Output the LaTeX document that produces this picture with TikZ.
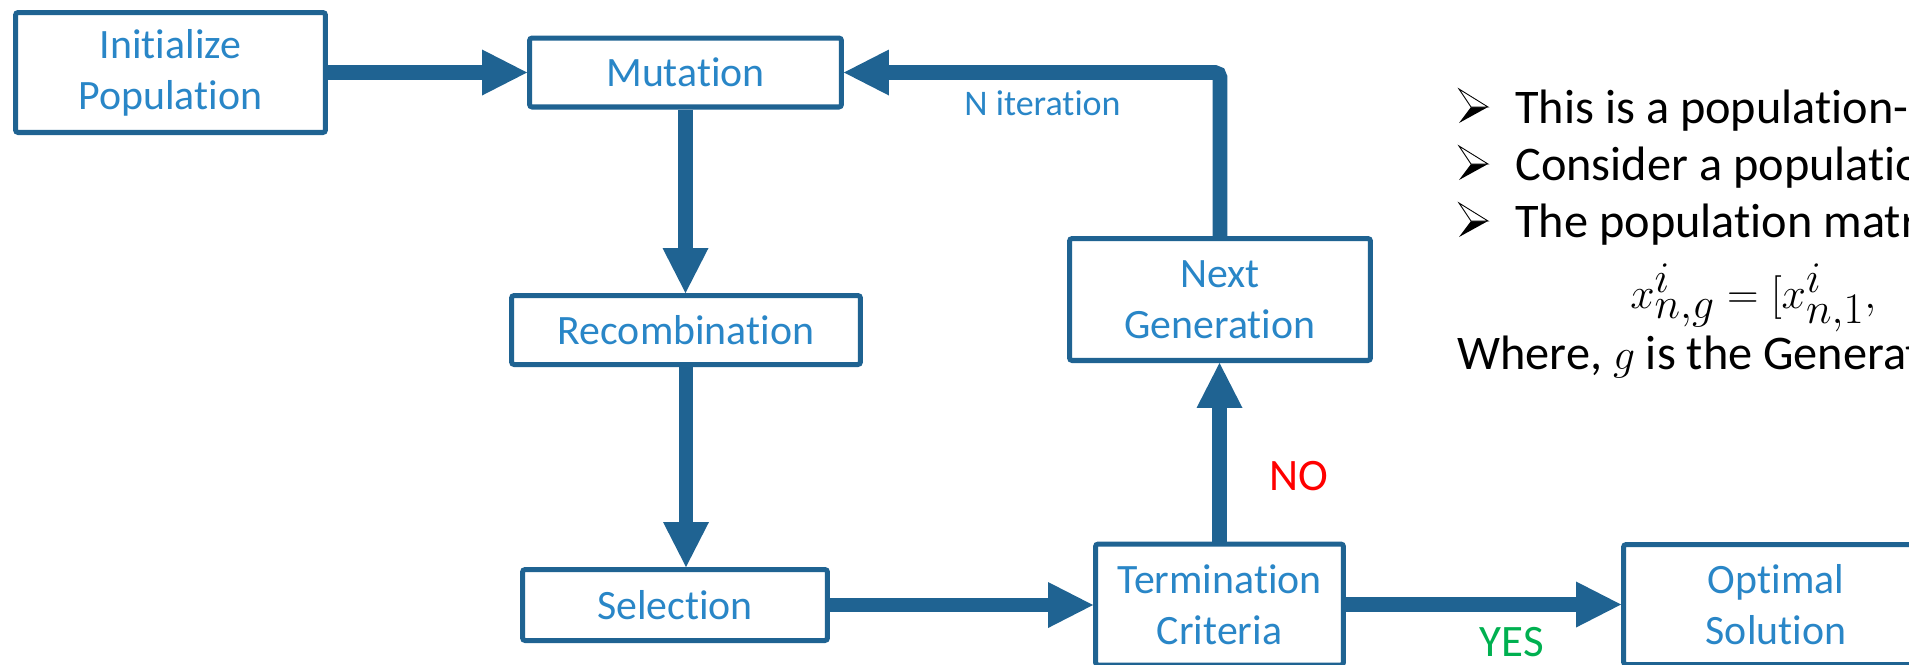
\documentclass[tikz,border=0pt]{standalone}
\usepackage{fontspec}
\setmainfont{Carlito}[Ligatures={NoCommon,NoContextual}]
\usetikzlibrary{arrows.meta}
\definecolor{boxblue}{RGB}{31,99,146}
\definecolor{txtblue}{RGB}{41,134,199}
\definecolor{yesgreen}{RGB}{0,176,80}
\definecolor{nored}{RGB}{255,0,0}
\begin{document}
\begin{tikzpicture}[x=0.02cm, y=-0.02cm,
  flowbox/.style={draw=boxblue, line width=2.85pt, rounded corners=1.5pt, fill=white,
    text=txtblue, align=center, inner sep=0pt, font=\fontsize{23.8}{29}\selectfont},
  flowarrow/.style={draw=boxblue, line width=8.5pt,
    -{Triangle[length=0.9cm, width=0.92cm, line width=0pt]}},
  bodytext/.style={anchor=base west, inner sep=0pt, text=black, font=\fontsize{27.5}{33}\selectfont},
  edgelabel/.style={anchor=base, inner sep=0pt, font=\fontsize{25.6}{30}\selectfont}]
\useasboundingbox (0,0) rectangle (1909,664);
\clip (0,0) rectangle (1909,664);

% boxes
\node[flowbox, minimum width=6.2cm, minimum height=2.4cm] (init) at (170.5,72.5) {Initialize\\Population};
\node[flowbox, minimum width=6.24cm, minimum height=1.38cm] (mut) at (685.5,72.5) {Mutation};
\node[flowbox, minimum width=6.98cm, minimum height=1.38cm] (rec) at (686,330) {Recombination};
\node[flowbox, minimum width=6.1cm, minimum height=1.42cm] (sel) at (675,605) {Selection};
\node[flowbox, minimum width=4.96cm, minimum height=2.42cm] (term) at (1219.5,604.5) {Termination\\Criteria};
\node[flowbox, minimum width=6.02cm, minimum height=2.44cm] (next) at (1220,299.5) {Next\\Generation};
\node[flowbox, minimum width=6.1cm, minimum height=2.4cm] (opt) at (1776,604.5) {Optimal\\Solution};

% connectors
\draw[flowarrow] (init.east) -- (mut.west);
\draw[flowarrow] (mut.south) -- (mut.south |- rec.north);
\draw[flowarrow] (rec.south) -- (rec.south |- sel.north);
\draw[flowarrow] (sel.east) -- (sel.east -| term.west);
\draw[flowarrow] (term.north) -- (term.north |- next.south);
\draw[flowarrow] (term.east) -- (term.east -| opt.west);
\draw[flowarrow, rounded corners=3pt] (next.north) |- (mut.east);

% labels
\node[anchor=base, inner sep=0pt, text=txtblue, font=\fontsize{20.5}{25}\selectfont] (iter) at (1042.5,115) {N iteration};
\node[edgelabel, text=nored] (no) at (1299,490) {NO};
\node[edgelabel, text=yesgreen] (yes) at (1512,656) {YES};

% right-hand text
\node[bodytext] (l1) at (1515,123) {This is a population-};
\node[bodytext] (l2) at (1515,180) {Consider a population};
\node[bodytext] (l3) at (1515,237) {The population matrix};
\node[anchor=base west, inner sep=0pt, font=\fontsize{33.5}{40}\selectfont] (formula) at (1630,308) {$x^{i}_{n,g}=[x^{i}_{n,1},$};
\node[bodytext] (where) at (1457,369) {Where, $g$ is the Generation};

% bullets
\foreach \n in {l1,l2,l3}{
  \fill[black] ([shift={(-44,-16)}]\n.base west) -- ([shift={(-27,-16)}]\n.base west)
      -- ([shift={(-56,0)}]\n.base west) -- cycle;
  \draw[black, line width=0.5pt, fill=white, line join=miter]
      ([shift={(-56,-34)}]\n.base west) -- ([shift={(-27,-16)}]\n.base west)
      -- ([shift={(-44,-16)}]\n.base west) -- cycle;
}
\end{tikzpicture}
\end{document}
